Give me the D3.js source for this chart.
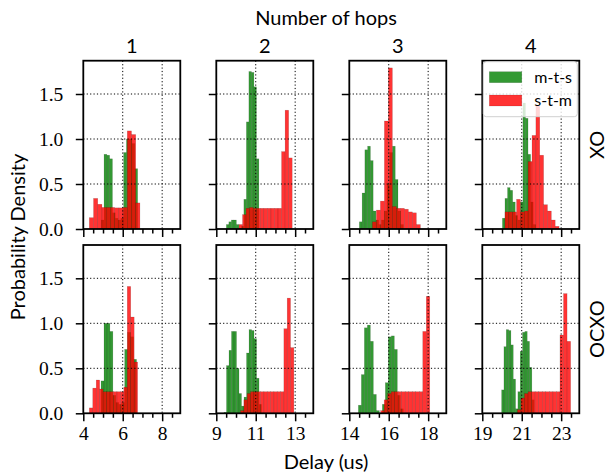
<!DOCTYPE html>
<html>
<head>
<meta charset="utf-8">
<script src="https://cdn.jsdelivr.net/npm/d3@7"></script>
<style>
  body { margin: 0; background: #fff; }
  svg { display: block; }
</style>
</head>
<body>
<div id="figure"></div>
<script>
// data (probability density histograms)
var hopStarts = [4, 9, 14, 19];
var hopLabels = ["1", "2", "3", "4"];
var rowLabels = ["XO", "OCXO"];
var seriesNames = ["m-t-s", "s-t-m"];
var yTicks = [0, 0.5, 1.0, 1.5];
var yTickLabels = ["0.0", "0.5", "1.0", "1.5"];

// XO, m-t-s
var xoMtsStart = [4.91, 9.51, 14.51, 20.02];
var xoMtsWidth = [0.142, 0.127, 0.14, 0.13];
var xoMtsHeights = [
  [0.1, 0.83, 0.82, 0.78, 0.18, 0.12, 0.1, 0.12, 0.85, 1.0, 1.0, 0.95, 0.67],
  [0.05, 0.08, 0.1, 0.1, 0.05, 0.01, 0.03, 0.33, 1.19, 1.75, 1.74, 1.58, 0.78],
  [0.08, 0.40, 0.88, 0.92, 0.76, 0.2, 0.1, 0.05, 0.1, 0.2, 0.5, 0.85, 0.92, 0.55, 0.2, 0.05],
  [0.12, 0.34, 0.46, 0.43, 0.3, 0.15, 0.1, 0.3, 1.40, 1.23, 0.83, 0.3, 0.05]
];
// XO, s-t-m
var xoStmStart = [4.305, 10.15, 15.17, 20.15];
var xoStmWidth = [0.214, 0.18, 0.203, 0.196];
var xoStmHeights = [
  [0.126, 0.34, 0.275, 0.24, 0.24, 0.24, 0.235, 0.235, 0.24, 1.09, 1.05, 0.29],
  [0.05, 0.16, 0.23, 0.24, 0.23, 0.23, 0.23, 0.23, 0.23, 0.23, 0.23, 0.23, 0.86, 1.32, 0.79],
  [0.08, 0.21, 0.31, 1.2, 1.79, 0.25, 0.23, 0.23, 0.22, 0.19, 0.18, 0.05],
  [0.19, 0.19, 0.19, 0.33, 0.19, 0.2, 0.75, 1.04, 1.37, 0.82, 0.27, 0.2, 0.1, 0.03]
];
// OCXO, m-t-s
var ocMtsStart = [4.90, 9.39, 14.46, 19.98];
var ocMtsWidth = [0.15, 0.127, 0.152, 0.118];
var ocMtsHeights = [
  [0.36, 1.0, 1.0, 0.91, 0.2, 0.12, 0.1, 0.12, 0.71, 0.9, 0.85, 0.6],
  [0.01, 0.53, 0.70, 0.91, 0.91, 0.5, 0.22, 0.08, 0.18, 0.67, 0.93, 0.92, 0.83, 0.39, 0.1],
  [0.09, 0.43, 0.95, 0.98, 0.80, 0.21, 0.03, 0, 0.1, 0.34, 0.85, 0.86, 0.71, 0.2, 0.05],
  [0.26, 0.74, 0.93, 0.92, 0.76, 0.38, 0.05, 0.24, 0.69, 0.9, 0.91, 0.8, 0.51, 0.15]
];
// OCXO, s-t-m
var ocStmStart = [4.305, 10.23, 15.59, 20.78];
var ocStmWidth = [0.175, 0.169, 0.178, 0.18];
var ocStmHeights = [
  [0.06, 0.28, 0.37, 0.27, 0.24, 0.24, 0.24, 0.24, 0.24, 0.24, 0.29, 1.41, 1.07, 0.57],
  [0.03, 0.15, 0.22, 0.24, 0.24, 0.24, 0.24, 0.24, 0.24, 0.24, 0.24, 0.24, 0.24, 0.94, 1.28, 0.73],
  [0.03, 0.15, 0.22, 0.24, 0.24, 0.24, 0.24, 0.24, 0.24, 0.24, 0.24, 0.24, 0.91, 1.3],
  [0.04, 0.17, 0.22, 0.24, 0.24, 0.24, 0.24, 0.24, 0.24, 0.24, 0.24, 0.24, 0.87, 1.33, 0.80]
];

var colors = { green: "#008000", red: "#ff0000" };
var barAlpha = 0.8;

var W = 610, H = 473;
var panelLeft = 83.3, panelStep = 133, panelW = 97;
var rowTop = [60.7, 245], panelH = 168.3;
var xSpan = 4.92, yMax = 1.87;
var serif = "'Liberation Serif', 'DejaVu Serif', serif";
var sans = "Lato, 'DejaVu Sans', sans-serif";

var svg = d3.select("#figure").append("svg")
  .attr("width", W).attr("height", H);

function drawBars(g, x, y, start, width, heights, color) {
  g.selectAll(null)
    .data(heights)
    .enter()
    .append("rect")
    .attr("x", function(d, i) { return x(start + i * width); })
    .attr("y", function(d) { return y(d); })
    .attr("width", function(d, i) { return x(start + (i + 1) * width) - x(start + i * width); })
    .attr("height", function(d) { return y(0) - y(d); })
    .attr("fill", color)
    .attr("fill-opacity", barAlpha)
    .attr("stroke", "#000")
    .attr("stroke-opacity", 0.22)
    .attr("stroke-width", 0.5);
}

var rows = [
  { mts: [xoMtsStart, xoMtsWidth, xoMtsHeights], stm: [xoStmStart, xoStmWidth, xoStmHeights] },
  { mts: [ocMtsStart, ocMtsWidth, ocMtsHeights], stm: [ocStmStart, ocStmWidth, ocStmHeights] }
];

function drawPanel(r, c) {
  var px = panelLeft + c * panelStep;
  var py = rowTop[r];
  var s = hopStarts[c];
  var x = d3.scaleLinear().domain([s, s + xSpan]).range([px, px + panelW]);
  var y = d3.scaleLinear().domain([0, yMax]).range([py + panelH, py]);
  var g = svg.append("g");

  var d = rows[r];
  drawBars(g, x, y, d.mts[0][c], d.mts[1][c], d.mts[2][c], colors.green);
  drawBars(g, x, y, d.stm[0][c], d.stm[1][c], d.stm[2][c], colors.red);

  // dotted grid, drawn over the bars
  var majors = [s, s + 2, s + 4];
  g.selectAll(null).data(majors.slice(1)).enter().append("line")
    .attr("x1", function(v) { return x(v); }).attr("x2", function(v) { return x(v); })
    .attr("y1", py).attr("y2", py + panelH)
    .attr("stroke", "#000").attr("stroke-width", 1).attr("stroke-dasharray", "1.2,2.2");
  g.selectAll(null).data(yTicks.slice(1)).enter().append("line")
    .attr("x1", px).attr("x2", px + panelW)
    .attr("y1", function(v) { return y(v); }).attr("y2", function(v) { return y(v); })
    .attr("stroke", "#000").attr("stroke-width", 1).attr("stroke-dasharray", "1.2,2.2");

  // x axis: minor every 0.5, major every 2
  var minors = d3.range(0, 10).map(function(i) { return s + i * 0.5; })
    .filter(function(v) { return (v - s) % 2 !== 0; });
  var xAxisMinor = d3.axisBottom(x).tickValues(minors).tickSize(4.5).tickFormat("");
  var xAxisMajor = d3.axisBottom(x).tickValues(majors).tickSize(8)
    .tickFormat(r === 1 ? d3.format("d") : "");
  var ga = g.append("g").attr("transform", "translate(0," + (py + panelH) + ")").call(xAxisMinor);
  var gb = g.append("g").attr("transform", "translate(0," + (py + panelH) + ")").call(xAxisMajor);
  [ga, gb].forEach(function(a) {
    a.select(".domain").remove();
    a.selectAll(".tick line").attr("stroke", "#000").attr("stroke-width", 1.5);
  });
  gb.selectAll(".tick text").attr("font-family", serif).attr("font-size", 19.5)
    .attr("fill", "#000").attr("y", 13).attr("dy", "0.71em");

  // y axis
  var yAxis = d3.axisLeft(y).tickValues(yTicks).tickSize(7.5)
    .tickFormat(function(v, i) { return c === 0 ? yTickLabels[i] : ""; });
  var gy = g.append("g").attr("transform", "translate(" + px + ",0)").call(yAxis);
  gy.select(".domain").remove();
  gy.selectAll(".tick line").attr("stroke", "#000").attr("stroke-width", 1.5);
  gy.selectAll(".tick text").attr("font-family", serif).attr("font-size", 19.5)
    .attr("fill", "#000").attr("x", -20);

  // frame
  g.append("rect").attr("x", px).attr("y", py).attr("width", panelW).attr("height", panelH)
    .attr("fill", "none").attr("stroke", "#000").attr("stroke-width", 1.8);

  if (r === 0) {
    svg.append("text").attr("x", px + panelW / 2).attr("y", 53)
      .attr("text-anchor", "middle").attr("font-family", sans).attr("font-size", 20)
      .text(hopLabels[c]);
  }
  if (c === 3) {
    svg.append("text")
      .attr("transform", "translate(" + 604 + "," + (py + panelH / 2) + ") rotate(-90)")
      .attr("text-anchor", "middle").attr("font-family", sans).attr("font-size", 20)
      .text(rowLabels[r]);
  }
  if (r === 0 && c === 3) {
    // legend
    var lg = svg.append("g");
    lg.append("rect").attr("x", px + 1).attr("y", py + 1).attr("width", panelW - 3).attr("height", 55)
      .attr("rx", 3).attr("fill", "#fff").attr("fill-opacity", 0.8)
      .attr("stroke", "#d0d0d0").attr("stroke-width", 1);
    [colors.green, colors.red].forEach(function(col, i) {
      lg.append("rect").attr("x", px + 7).attr("y", py + 11 + i * 23.3).attr("width", 32.5).attr("height", 11)
        .attr("fill", col).attr("fill-opacity", barAlpha)
        .attr("stroke", "#000").attr("stroke-opacity", 0.22).attr("stroke-width", 0.5);
      lg.append("text").attr("x", px + 52).attr("y", py + 22 + i * 23.3)
        .attr("font-family", sans).attr("font-size", 16).text(seriesNames[i]);
    });
  }
}

for (var r = 0; r < 2; r++) {
  for (var c = 0; c < 4; c++) drawPanel(r, c);
}

svg.append("text").attr("x", 326).attr("y", 25).attr("text-anchor", "middle")
  .attr("font-family", sans).attr("font-size", 20).text("Number of hops");
svg.append("text").attr("x", 326).attr("y", 469).attr("text-anchor", "middle")
  .attr("font-family", sans).attr("font-size", 20).text("Delay (us)");
svg.append("text").attr("transform", "translate(25,237) rotate(-90)").attr("text-anchor", "middle")
  .attr("font-family", sans).attr("font-size", 20).text("Probability Density");
</script>
</body>
</html>
